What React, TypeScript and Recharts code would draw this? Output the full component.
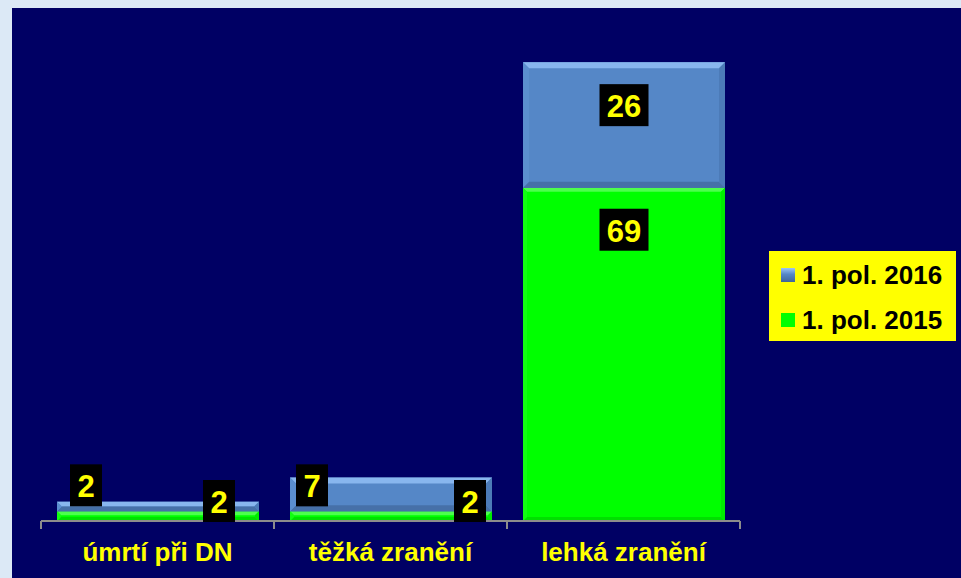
import { BarChart, Bar, XAxis, YAxis, LabelList } from "recharts";

const categories = ["úmrtí při DN", "těžká zranění", "lehká zranění"];
const pol2015 = [2, 2, 69];
const pol2016 = [2, 7, 26];
const seriesNames = ["1. pol. 2015", "1. pol. 2016"];

const data = categories.map((name, i) => ({
  name,
  pos: i + 0.5,
  v2015: pol2015[i],
  v2016: pol2016[i],
}));

const NAVY = "#000064";
const YELLOW = "#FFFF00";
const FONT = "'Liberation Sans', Arial, sans-serif";

const bevelShape = (colors: { base: string; top: string; bottom: string; left: string; right: string }, maxB: number) =>
  (props: any) => {
    const { x, y, width: w, height: h } = props;
    if (!w || !h) return <g />;
    const b = Math.min(maxB, h / 2, w / 2);
    return (
      <g>
        <rect x={x} y={y} width={w} height={h} fill={colors.base} />
        <polygon points={`${x},${y} ${x + w},${y} ${x + w - b},${y + b} ${x + b},${y + b}`} fill={colors.top} />
        <polygon points={`${x},${y + h} ${x + w},${y + h} ${x + w - b},${y + h - b} ${x + b},${y + h - b}`} fill={colors.bottom} />
        <polygon points={`${x},${y} ${x + b},${y + b} ${x + b},${y + h - b} ${x},${y + h}`} fill={colors.left} />
        <polygon points={`${x + w},${y} ${x + w - b},${y + b} ${x + w - b},${y + h - b} ${x + w},${y + h}`} fill={colors.right} />
      </g>
    );
  };

const blueShape = bevelShape(
  { base: "#5587C7", top: "#88B6EE", bottom: "#4670A8", left: "#5B8ECF", right: "#4C7BB8" },
  6
);
const greenShape = bevelShape(
  { base: "#00FF00", top: "#4DFF4D", bottom: "#00E000", left: "#11FF11", right: "#00EC00" },
  4
);

// little nudges so the small-bar labels sit where the original put them
const nudge2015 = [0, 18];
const nudge2016 = [3, -4];

const valueBox = (series: "2015" | "2016") => (props: any) => {
  const { x, y, width, height, value, index } = props;
  const txt = String(value);
  const bw = txt.length > 1 ? 49 : 32;
  const bh = 42;
  let bx: number;
  let by: number;
  if (height > 60) {
    bx = x + width / 2 - bw / 2;
    by = y + (series === "2016" ? 22 : 21);
  } else if (series === "2016") {
    bx = x + 10 + (nudge2016[index] ?? 0);
    by = y + height - 5 - bh;
  } else {
    bx = x + width - 24 - bw + (nudge2015[index] ?? 0);
    by = y + height + 1 - bh;
  }
  return (
    <g>
      <rect x={bx} y={by} width={bw} height={bh} fill="#000" />
      <text
        x={bx + bw / 2}
        y={by + 33}
        textAnchor="middle"
        fill={YELLOW}
        fontFamily={FONT}
        fontWeight="bold"
        fontSize={31}
      >
        {txt}
      </text>
    </g>
  );
};

const CategoryTick = (props: any) => {
  const { x, y, payload } = props;
  return (
    <text x={x} y={y + 24} textAnchor="middle" fill={YELLOW} fontFamily={FONT} fontWeight="bold" fontSize={26}>
      {payload.value}
    </text>
  );
};

export default function App() {
  return (
    <div style={{ position: "absolute", left: 0, top: 0, width: 961, height: 578, background: "#DCE9F6", overflow: "hidden" }}>
      <div style={{ position: "absolute", left: 12, top: 8, width: 949, height: 570, background: NAVY }} />
      <div style={{ position: "absolute", left: 0, top: 0 }}>
        <BarChart
          width={961}
          height={578}
          data={data}
          margin={{ top: 38, right: 221, bottom: 0, left: 41 }}
        >
          <XAxis
            xAxisId="z"
            dataKey="name"
            height={49}
            axisLine={false}
            tickLine={false}
            tick={<CategoryTick />}
            interval={0}
          />
          <XAxis
            xAxisId="a"
            type="number"
            dataKey="pos"
            domain={[0, 3]}
            ticks={[0, 1, 2, 3]}
            height={8}
            tick={{ fill: "none" }}
            tickFormatter={() => ""}
            tickSize={8}
            axisLine={{ stroke: "#8C8C8C", strokeWidth: 2 }}
            tickLine={{ stroke: "#8C8C8C", strokeWidth: 2 }}
          />
          <YAxis hide domain={[0, 100]} />
          <Bar
            xAxisId="z"
            dataKey="v2015"
            name={seriesNames[0]}
            stackId="a"
            barSize={202}
            shape={greenShape}
            isAnimationActive={false}
          >
            <LabelList dataKey="v2015" content={valueBox("2015")} />
          </Bar>
          <Bar
            xAxisId="z"
            dataKey="v2016"
            name={seriesNames[1]}
            stackId="a"
            barSize={202}
            shape={blueShape}
            isAnimationActive={false}
          >
            <LabelList dataKey="v2016" content={valueBox("2016")} />
          </Bar>
        </BarChart>
      </div>
      <div
        style={{
          position: "absolute",
          left: 769,
          top: 251,
          width: 187,
          height: 90,
          background: YELLOW,
          fontFamily: FONT,
          fontWeight: "bold",
          fontSize: 26,
          color: "#000",
        }}
      >
        {[
          { name: seriesNames[1], icon: "linear-gradient(180deg, #9CC6F5 0%, #5587C7 45%, #3F669A 100%)", top: 14 },
          { name: seriesNames[0], icon: "#00FF00", top: 59 },
        ].map((it) => (
          <div key={it.name} style={{ position: "absolute", left: 12, top: it.top, height: 20, display: "flex", alignItems: "center" }}>
            <span style={{ display: "inline-block", width: 14, height: 14, background: it.icon, marginRight: 7 }} />
            <span style={{ lineHeight: "20px", whiteSpace: "nowrap" }}>{it.name}</span>
          </div>
        ))}
      </div>
    </div>
  );
}
